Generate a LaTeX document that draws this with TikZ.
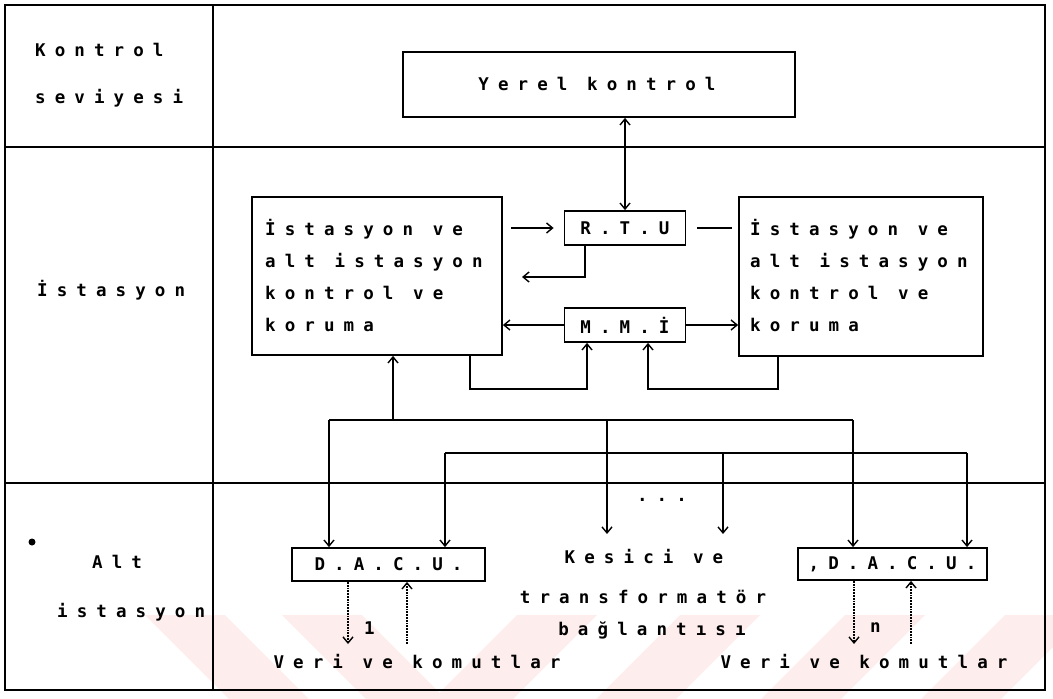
\documentclass[tikz,border=0pt]{standalone}
\usepackage{fontspec}
\newfontfamily\dotf[LetterSpace=52,UprightFont=* Bold]{DejaVu Sans Mono}
\usetikzlibrary{arrows.meta,calc}
\definecolor{wm}{RGB}{254,237,237}
\begin{document}
\begin{tikzpicture}[x=1pt,y=-1pt,
  frame/.style={line width=2.2pt},
  box/.style={draw,line width=1.8pt,inner sep=0pt},
  txt/.style={font=\dotf\fontsize{17.5}{32}\selectfont,inner sep=0pt},
  lnk/.style={line width=1.6pt},
  arr/.style={lnk,-{Straight Barb[length=6pt,width=10pt,line width=1.4pt]}},
  barr/.style={lnk,{Straight Barb[length=6pt,width=10pt,line width=1.4pt]}-{Straight Barb[length=6pt,width=10pt,line width=1.4pt]}},
  dot/.style={line width=1.8pt,densely dotted},
  darr/.style={dot,-{Straight Barb[length=6pt,width=10pt,line width=1.4pt,sep=0pt]}}
]
\useasboundingbox (0,0) rectangle (1053,699);
% watermark
\begin{scope}
\clip (0,615) rectangle (1053,699);
\fill[wm] (145,615) -- (225,615) -- (309,699) -- (229,699) -- cycle;
\fill[wm] (282,615) -- (362,615) -- (446,699) -- (366,699) -- cycle;
\fill[wm] (517,615) -- (597,615) -- (513,699) -- (433,699) -- cycle;
\fill[wm] (680,615) -- (760,615) -- (676,699) -- (596,699) -- cycle;
\fill[wm] (845,615) -- (925,615) -- (841,699) -- (761,699) -- cycle;
\fill[wm] (1005,615) -- (1085,615) -- (1001,699) -- (921,699) -- cycle;
\end{scope}
% frame
\draw[frame] (5,5) rectangle (1045,690);
\draw[frame] (213,5) -- (213,690);
\draw[frame] (5,147) -- (1045,147);
\draw[frame] (5,483) -- (1045,483);
% left column labels
\node[txt,anchor=west] (l1) at (35,50) {Kontrol};
\node[txt,anchor=west] (l2) at (35,98) {seviyesi};
\node[txt,anchor=west] (l3) at (37,290) {İstasyon};
\node[txt,anchor=west] (l4) at (92,562) {Alt};
\node[txt,anchor=west] (l5) at (57,612) {istasyon};
\fill (32,542) circle (3.5);
% boxes
\node[box,minimum width=392,minimum height=65] (yerel) at (599,84.5) {};
\node[txt] (yereltxt) at (597,84) {Yerel kontrol};
\node[box,minimum width=121,minimum height=34] (rtu) at (625,228) {};
\node[txt] (rtutxt) at (625,228) {R.T.U};
\node[box,minimum width=121,minimum height=34] (mmi) at (625,325) {};
\node[txt] (mmitxt) at (625,325) {M.M.İ};
\node[box,minimum width=250,minimum height=158] (L) at (377,276) {};
\node[box,minimum width=244,minimum height=159] (R) at (861,276.5) {};
\node[txt,anchor=west,align=left] (Ltxt) at (265,276) {İstasyon ve\\alt istasyon\\kontrol ve\\koruma};
\node[txt,anchor=west,align=left] (Rtxt) at (750,276) {İstasyon ve\\alt istasyon\\kontrol ve\\koruma};
\node[box,minimum width=193,minimum height=33] (dacu1) at (388.5,564.5) {};
\node[txt] (d1txt) at (388.5,564.5) {D.A.C.U.};
\node[box,minimum width=189,minimum height=32] (dacun) at (892.5,564) {};
\node[txt] (dntxt) at (892.5,564) {,D.A.C.U.};
\node[txt] (k1) at (644,557) {Kesici ve};
\node[txt] (k2) at (643,597) {transformatör};
\node[txt] (k3) at (652,630) {bağlantısı};
\node[txt] (dots) at (662,500) {...};
\node[txt] (v1) at (417,662) {Veri ve komutlar};
\node[txt] (v2) at (864,662) {Veri ve komutlar};
\node[txt,anchor=west] (one) at (364,628) {1};
\node[txt,anchor=west] (enn) at (870,628) {n};
% coordinates
\coordinate (rb) at (585,277);
\coordinate (rbend) at (522,277);
\coordinate (lb1) at (470,389);
\coordinate (lb2) at (587,389);
\coordinate (rb1) at (778,389);
\coordinate (rb2) at (648,389);
\coordinate (b1l) at (329,420);
\coordinate (b1r) at (853,420);
\coordinate (up1) at (393,420);
\coordinate (b2l) at (445,453);
\coordinate (b2r) at (967,453);
\coordinate (k1t) at (607,420);
\coordinate (k1e) at (607,534);
\coordinate (k2t) at (723,453);
\coordinate (k2e) at (723,534);
\coordinate (d1a) at (348,644);
\coordinate (d1b) at (407,644);
\coordinate (dna) at (854,644);
\coordinate (dnb) at (911,644);
% connectors
\draw[barr] (yerel.south -| rtu.north) -- (rtu.north);
\draw[arr,shorten <=8pt,shorten >=10pt] (rtu.west -| L.east) -- (rtu.west);
\draw[lnk,shorten <=11pt,shorten >=6pt] (rtu.east) -- (rtu.east -| R.west);
\draw[arr] (rtu.south -| rb) -- (rb) -- (rbend);
\draw[arr] (mmi.west) -- (mmi.west -| L.east);
\draw[arr] (mmi.east) -- (mmi.east -| R.west);
\draw[arr] (L.south -| lb1) -- (lb1) -- (lb2) -- (mmi.south -| lb2);
\draw[arr] (R.south -| rb1) -- (rb1) -- (rb2) -- (mmi.south -| rb2);
\draw[lnk] (b1l) -- (b1r);
\draw[arr] (b1l) -- (dacu1.north -| b1l);
\draw[arr] (b1r) -- (dacun.north -| b1r);
\draw[arr] (up1) -- (L.south -| up1);
\draw[lnk] (b2l) -- (b2r);
\draw[arr] (b2l) -- (dacu1.north -| b2l);
\draw[arr] (b2r) -- (dacun.north -| b2r);
\draw[arr] (k1t) -- (k1e);
\draw[arr] (k2t) -- (k2e);
\draw[darr] (dacu1.south -| d1a) -- (d1a);
\draw[darr] (d1b) -- (dacu1.south -| d1b);
\draw[darr] (dacun.south -| dna) -- (dna);
\draw[darr] (dnb) -- (dacun.south -| dnb);
\end{tikzpicture}
\end{document}
